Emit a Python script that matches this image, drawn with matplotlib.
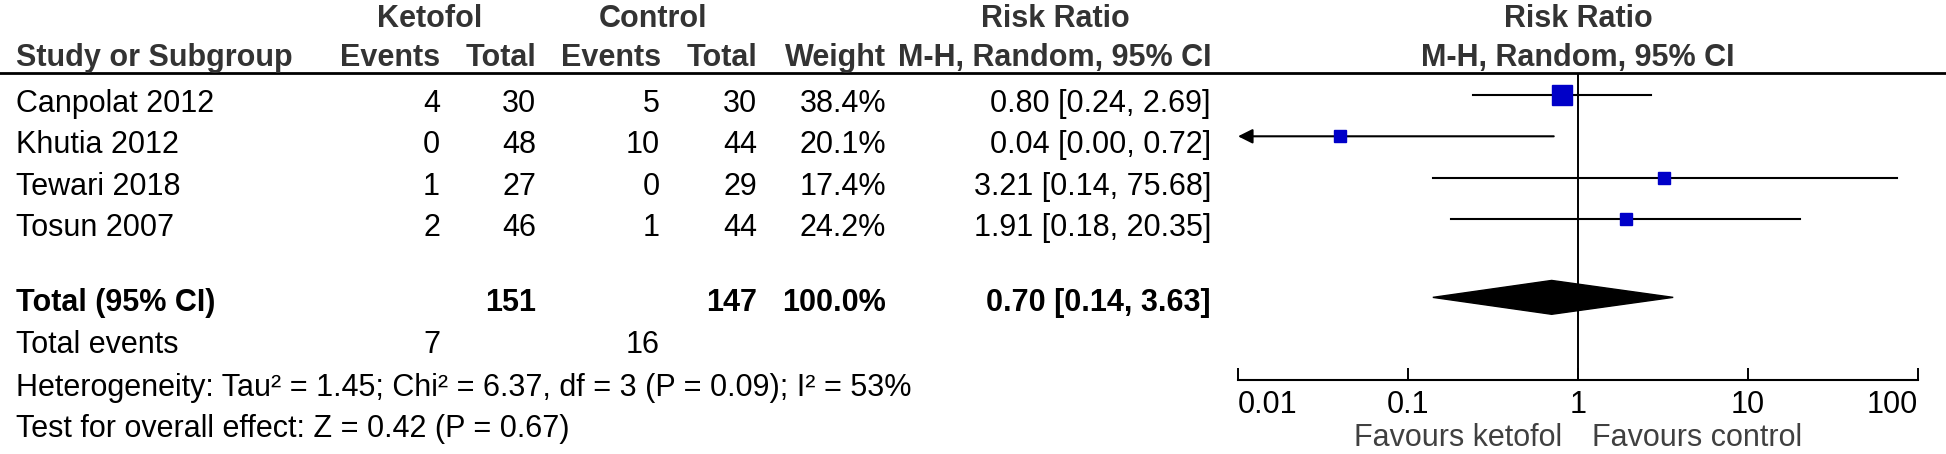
import matplotlib
matplotlib.use("Agg")
from matplotlib import pyplot as plt
from matplotlib.patches import Polygon

# Dados do forest plot
studies = ["Canpolat 2012", "Khutia 2012", "Tewari 2018", "Tosun 2007"]
events_keto = [4, 0, 1, 2]
total_keto = [30, 48, 27, 46]
events_ctrl = [5, 10, 0, 1]
total_ctrl = [30, 44, 29, 44]
weights = [38.4, 20.1, 17.4, 24.2]
rr = [0.80, 0.04, 3.21, 1.91]
rr_low = [0.24, 0.00, 0.14, 0.18]
rr_high = [2.69, 0.72, 75.68, 20.35]

total_n_keto = 151
total_n_ctrl = 147
total_weight = 100.0
total_events_keto = 7
total_events_ctrl = 16
total_rr = 0.70
total_low = 0.14
total_high = 3.63

heterogeneity = "Heterogeneity: Tau² = 1.45; Chi² = 6.37, df = 3 (P = 0.09); I² = 53%"
overall = "Test for overall effect: Z = 0.42 (P = 0.67)"
ticks = [0.01, 0.1, 1, 10, 100]
tick_labels = ["0.01", "0.1", "1", "10", "100"]

W, H = 1946, 454
FS = 22
plt.rcParams['font.family'] = ['Liberation Sans', 'DejaVu Sans']
HEAD = '#333333'

fig = plt.figure(figsize=(W / 100, H / 100), dpi=100)

# eixo de fundo em "pixels" para o texto da tabela
ax0 = fig.add_axes([0, 0, 1, 1])
ax0.set_xlim(0, W)
ax0.set_ylim(H, 0)
ax0.axis('off')

# posicoes das linhas
row0, step = 95, 41.3
total_pos = 4.9
ax_top, ax_bot = 73, 380
xl, xr = 1238, 1918


def y_row(i):
    return row0 + step * i


def txt(x, y, s, ha='right', bold=False, color='black'):
    ax0.text(x, y, s, ha=ha, va='baseline', fontsize=FS,
             fontweight='bold' if bold else 'normal', color=color)


# cabecalhos
txt(430, 27, "Ketofol", ha='center', bold=True, color=HEAD)
txt(653, 27, "Control", ha='center', bold=True, color=HEAD)
txt(1055, 27, "Risk Ratio", ha='center', bold=True, color=HEAD)
txt(1578, 27, "Risk Ratio", ha='center', bold=True, color=HEAD)
y_h2 = 66
txt(16, y_h2, "Study or Subgroup", ha='left', bold=True, color=HEAD)
txt(440, y_h2, "Events", bold=True, color=HEAD)
txt(536, y_h2, "Total", bold=True, color=HEAD)
txt(661, y_h2, "Events", bold=True, color=HEAD)
txt(757, y_h2, "Total", bold=True, color=HEAD)
txt(886, y_h2, "Weight", bold=True, color=HEAD)
txt(1211, y_h2, "M-H, Random, 95% CI", bold=True, color=HEAD)
txt(1578, y_h2, "M-H, Random, 95% CI", ha='center', bold=True, color=HEAD)
ax0.plot([0, W], [ax_top, ax_top], color='black', lw=2.0)

# linhas dos estudos
for i, name in enumerate(studies):
    yb = y_row(i) + 17
    txt(16, yb, name, ha='left')
    txt(440, yb, str(events_keto[i]))
    txt(536, yb, str(total_keto[i]))
    txt(660, yb, str(events_ctrl[i]))
    txt(757, yb, str(total_ctrl[i]))
    txt(886, yb, f"{weights[i]:.1f}%")
    txt(1211, yb, f"{rr[i]:.2f} [{rr_low[i]:.2f}, {rr_high[i]:.2f}]")

# total
yb = y_row(total_pos) + 14
txt(16, yb, "Total (95% CI)", ha='left', bold=True)
txt(536, yb, str(total_n_keto), bold=True)
txt(757, yb, str(total_n_ctrl), bold=True)
txt(886, yb, f"{total_weight:.1f}%", bold=True)
txt(1211, yb, f"{total_rr:.2f} [{total_low:.2f}, {total_high:.2f}]", bold=True)
txt(16, 353, "Total events", ha='left')
txt(440, 353, str(total_events_keto))
txt(660, 353, str(total_events_ctrl))
txt(16, 396, heterogeneity, ha='left')
txt(16, 437, overall, ha='left')
txt(1562, 446, "Favours ketofol", color='#404040')
txt(1592, 446, "Favours control", ha='left', color='#404040')

# eixo do forest plot (escala log)
ax = fig.add_axes([xl / W, 1 - ax_bot / H, (xr - xl) / W, (ax_bot - ax_top) / H])
ax.set_xscale('log')
ax.set_xlim(ticks[0], ticks[-1])
ax.set_ylim((ax_bot - row0) / step, (ax_top - row0) / step)
ax.patch.set_alpha(0)
for s in ['top', 'left', 'right']:
    ax.spines[s].set_visible(False)
ax.spines['bottom'].set_linewidth(1.5)
ax.set_yticks([])
ax.set_xticks(ticks, labels=tick_labels)
ax.minorticks_off()
ax.tick_params(axis='x', direction='in', length=9, width=1.4, pad=7, labelsize=FS)
lbls = ax.get_xticklabels()
lbls[0].set_ha('left')
lbls[-1].set_ha('right')
ax.axvline(1, color='black', lw=1.4, zorder=1)

xmin, xmax = ticks[0], ticks[-1]
wmax = max(weights)
for i in range(len(studies)):
    lo = max(rr_low[i], xmin)
    hi = min(rr_high[i], xmax)
    if rr_low[i] < xmin:
        ax.annotate('', xy=(xmin, i), xytext=(hi, i),
                    arrowprops=dict(arrowstyle='-|>', color='black', lw=1.5,
                                    mutation_scale=22, shrinkA=0, shrinkB=0))
    else:
        ax.plot([lo, hi], [i, i], color='black', lw=1.5, zorder=2)
    size = max(8.6, 14.4 * weights[i] / wmax)
    ax.plot(rr[i], i, marker='s', ms=size, color='#0000C8', mec='#0000C8', zorder=3)

h = 0.41
diamond = Polygon([(total_low, total_pos), (total_rr, total_pos - h),
                   (total_high, total_pos), (total_rr, total_pos + h)],
                  closed=True, color='black', zorder=3)
ax.add_patch(diamond)

fig.savefig('out.png', dpi=100)
